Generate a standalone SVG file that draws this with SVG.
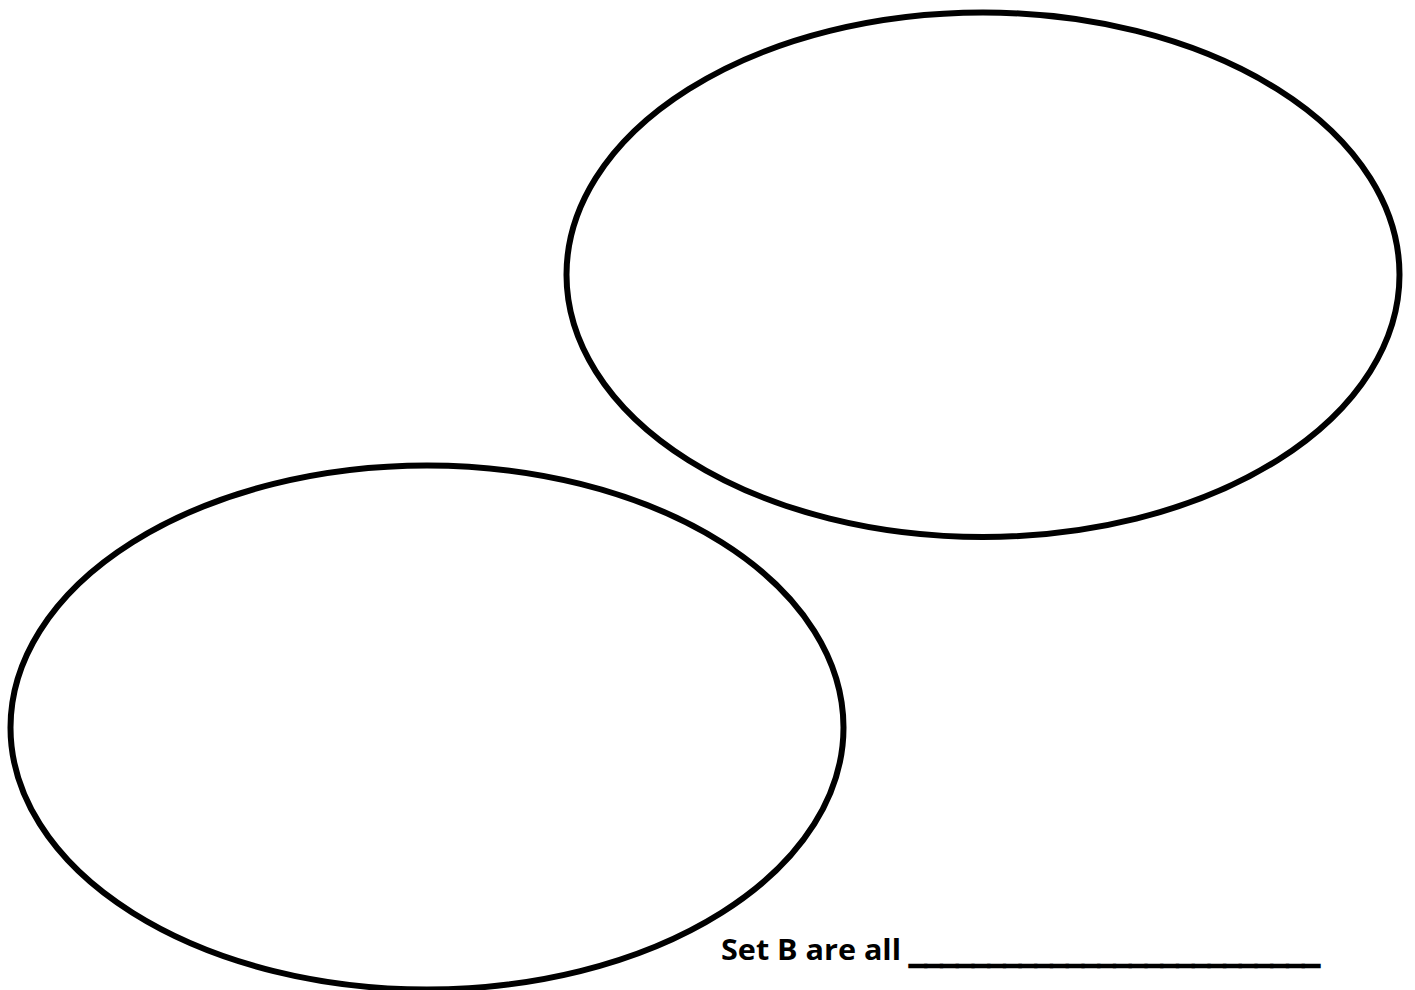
<svg xmlns="http://www.w3.org/2000/svg" width="1415" height="990" viewBox="0 0 1415 990">
<style>
.set{fill:none;stroke:#000;stroke-width:6}
.lbl{font-family:"Open Sans","Liberation Sans",Arial,sans-serif;font-weight:bold;font-size:28px;fill:#000}
.blank{stroke:#000;stroke-width:2.4}
</style>
<rect width="1415" height="990" fill="#fff"/>
<g id="setA">
<ellipse class="set" cx="983" cy="274.75" rx="416.5" ry="262.25"/>
</g>
<g id="setB">
<ellipse class="set" cx="427" cy="727.5" rx="416.5" ry="262"/>
</g>
<g id="connectors"></g>
<g id="label">
<text class="lbl" y="960"><tspan x="721" textLength="180" lengthAdjust="spacingAndGlyphs">Set B are all</tspan><tspan class="blank" x="910" y="962" textLength="409" lengthAdjust="spacingAndGlyphs">__________________________</tspan></text>
</g>
</svg>
